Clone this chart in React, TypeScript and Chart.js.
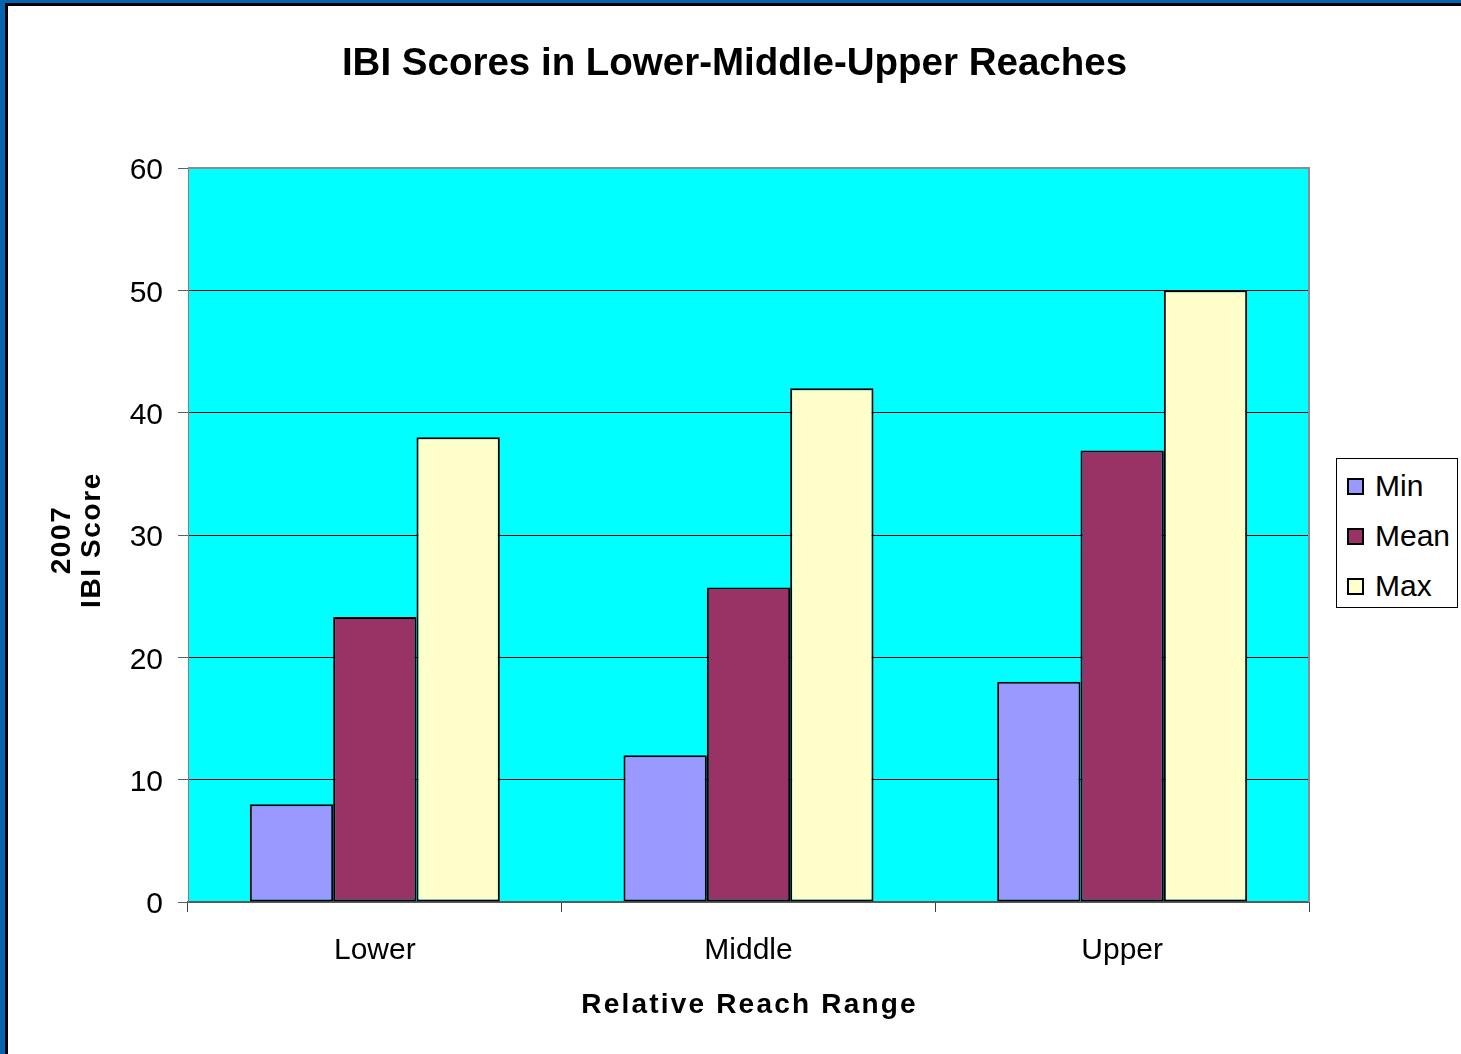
import React, { useEffect, useRef } from "react";
import { Chart, registerables } from "chart.js";

Chart.register(...registerables);

const TITLE = "IBI Scores in Lower-Middle-Upper Reaches";
const X_TITLE = "Relative Reach Range";
const Y_TITLE = ["2007", "IBI Score"];
const categories = ["Lower", "Middle", "Upper"];
const seriesNames = ["Min", "Mean", "Max"];
const minValues = [8, 12, 18];
const meanValues = [23.3, 25.7, 36.9];
const maxValues = [38, 42, 50];
const seriesColors = ["#9999FF", "#993366", "#FFFFCC"];
const Y_MIN = 0;
const Y_MAX = 60;
const Y_STEP = 10;

const FONT = "'Liberation Sans', Arial, Helvetica, sans-serif";

const plotBg = {
  id: "plotBg",
  beforeDraw(chart: any) {
    const { ctx, chartArea } = chart;
    ctx.save();
    ctx.fillStyle = "#00FFFF";
    ctx.fillRect(chartArea.left, chartArea.top, chartArea.right - chartArea.left, chartArea.bottom - chartArea.top);
    ctx.restore();
  },
  beforeDatasetsDraw(chart: any) {
    const { ctx, chartArea } = chart;
    ctx.save();
    ctx.strokeStyle = "#8c8c8c";
    ctx.lineWidth = 2;
    ctx.beginPath();
    ctx.moveTo(chartArea.left, chartArea.top);
    ctx.lineTo(chartArea.right, chartArea.top);
    ctx.lineTo(chartArea.right, chartArea.bottom);
    ctx.stroke();
    ctx.restore();
  },
};

// Axis titles drawn with a little letter spacing, as in the original
const axisTitles = {
  id: "axisTitles",
  afterDraw(chart: any) {
    const { ctx, chartArea } = chart;
    ctx.save();
    ctx.fillStyle = "#000";
    ctx.font = `bold 28px ${FONT}`;
    ctx.textBaseline = "middle";
    ctx.textAlign = "center";
    // x title
    (ctx as any).letterSpacing = "2.2px";
    ctx.fillText(X_TITLE, (chartArea.left + chartArea.right) / 2 + 1, 999);
    // y title (rotated)
    (ctx as any).letterSpacing = "1.6px";
    const cy = (chartArea.top + chartArea.bottom) / 2;
    ctx.translate(54, cy);
    ctx.rotate(-Math.PI / 2);
    Y_TITLE.forEach((line, i) => {
      ctx.fillText(line, -5, i * 30);
    });
    ctx.restore();
  },
};

export default function App() {
  const ref = useRef<HTMLCanvasElement | null>(null);

  useEffect(() => {
    if (!ref.current) return;
    const values = [minValues, meanValues, maxValues];
    const chart = new Chart(ref.current, {
      type: "bar",
      data: {
        labels: categories,
        datasets: seriesNames.map((name, i) => ({
          label: name,
          data: values[i],
          backgroundColor: seriesColors[i],
          borderColor: "#000000",
          borderWidth: 2,
          borderSkipped: false,
          categoryPercentage: 0.669,
          barPercentage: 1,
        })),
      },
      options: {
        responsive: false,
        animation: false,
        devicePixelRatio: 1,
        layout: { padding: 0 },
        plugins: {
          legend: { display: false },
          tooltip: { enabled: false },
          title: {
            display: true,
            text: TITLE,
            color: "#000",
            font: { family: FONT, size: 38.5, weight: "bold", lineHeight: 1.2 },
            padding: { top: 34.9, bottom: 80.9 },
          },
        },
        scales: {
          x: {
            grid: {
              offset: true,
              drawOnChartArea: false,
              drawTicks: true,
              tickLength: 10,
              tickColor: "#404040",
              lineWidth: 1,
            },
            border: { display: true, color: "#5a5a5a", width: 2 },
            ticks: {
              color: "#000",
              font: { family: FONT, size: 30 },
              padding: 21,
            },
            title: { display: false },
            afterFit(scale: any) {
              scale.height = 152;
            },
          },
          y: {
            min: Y_MIN,
            max: Y_MAX,
            ticks: {
              stepSize: Y_STEP,
              color: "#000",
              font: { family: FONT, size: 30 },
              padding: 15,
              labelOffset: 3,
            },
            grid: {
              color: (c: any) =>
                c.tick && (c.tick.value === Y_MIN || c.tick.value === Y_MAX) ? "rgba(0,0,0,0)" : "#000000",
              lineWidth: 1,
              drawTicks: true,
              tickLength: 10,
              tickColor: "#606060",
            },
            border: { display: true, color: "#808080", width: 1 },
            title: { display: false },
            afterFit(scale: any) {
              scale.width = 180;
            },
          },
          yr: {
            type: "linear",
            position: "right",
            display: true,
            min: 0,
            max: 1,
            grid: { display: false, drawTicks: false },
            ticks: { display: false },
            border: { display: false },
            afterFit(scale: any) {
              scale.width = 152;
            },
          },
        },
      } as any,
      plugins: [plotBg, axisTitles],
    });
    return () => chart.destroy();
  }, []);

  const legendRows = [486, 536, 586];

  return (
    <div
      style={{
        position: "fixed",
        left: 0,
        top: 0,
        width: 1461,
        height: 1054,
        background: "#ffffff",
        boxSizing: "border-box",
        borderTop: "3px solid #0564b0",
        borderLeft: "5px solid #0564b0",
        overflow: "hidden",
      }}
    >
      <div
        style={{
          position: "absolute",
          left: 0,
          top: 0,
          width: 1456,
          height: 1051,
          boxSizing: "border-box",
          borderTop: "3px solid #000",
          borderLeft: "3px solid #000",
          background: "#fff",
        }}
      >
        <canvas ref={ref} width={1453} height={1048} style={{ display: "block", width: 1453, height: 1048 }} />
      </div>
      <div
        style={{
          position: "absolute",
          left: 1336 - 5,
          top: 458 - 3,
          width: 122,
          height: 150,
          boxSizing: "border-box",
          border: "1px solid #000",
          background: "#fff",
          fontFamily: FONT,
          fontSize: 30,
          color: "#000",
        }}
      >
        {seriesNames.map((name, i) => (
          <div
            key={name}
            style={{
              position: "absolute",
              left: 0,
              top: legendRows[i] - 458 - 1 - 25,
              height: 50,
            }}
          >
            <div
              style={{
                position: "absolute",
                left: 10,
                top: 17,
                width: 17,
                height: 17,
                boxSizing: "border-box",
                border: "2px solid #000",
                background: seriesColors[i],
              }}
            />
            <span style={{ position: "absolute", left: 38, top: 7, whiteSpace: "nowrap", lineHeight: "36px" }}>
              {name}
            </span>
          </div>
        ))}
      </div>
    </div>
  );
}
